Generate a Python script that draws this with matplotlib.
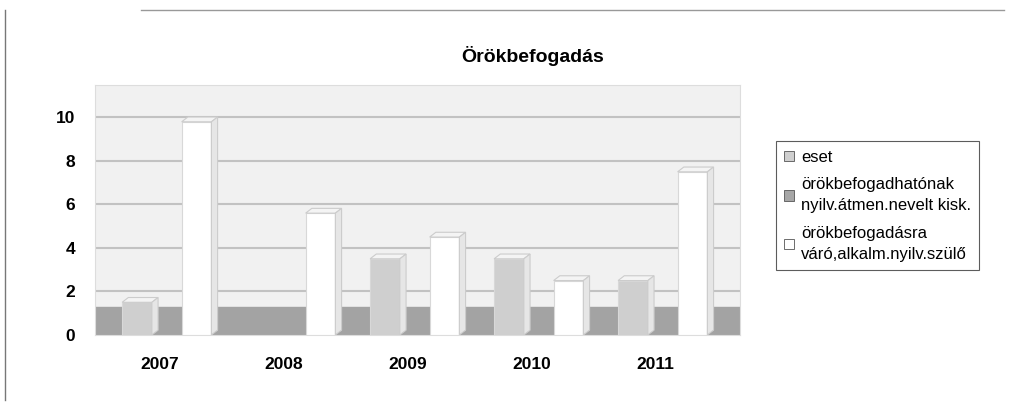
import numpy as np
from matplotlib import pyplot as plt
from matplotlib.patches import Rectangle, Polygon

plt.rcParams['font.family'] = ['Liberation Sans', 'DejaVu Sans']

years = ['2007', '2008', '2009', '2010', '2011']
eset = [1.5, 0, 3.5, 3.5, 2.5]
atmen_nevelt = [0, 0, 0, 0, 0]
varo_szulo = [9.8, 5.6, 4.5, 2.5, 7.5]

series_labels = ['eset',
                 'örökbefogadhatónak\nnyilv.átmen.nevelt kisk.',
                 'örökbefogadásra\nváró,alkalm.nyilv.szülő']
colors = ['#cfcfcf', '#a6a6a6', '#ffffff']


def bar3d(ax, x, h, w, color, dx=0.05, dy=0.22):
    # front face, top face and right side, a cheap 3d look
    ax.add_patch(Rectangle((x - w / 2, 0), w, h, facecolor=color,
                           edgecolor='#d8d8d8', lw=0.8, zorder=3))
    top = [(x - w / 2, h), (x + w / 2, h), (x + w / 2 + dx, h + dy), (x - w / 2 + dx, h + dy)]
    ax.add_patch(Polygon(top, closed=True, facecolor='#f4f4f4',
                         edgecolor='#cccccc', lw=0.8, zorder=3))
    side = [(x + w / 2, 0), (x + w / 2 + dx, dy), (x + w / 2 + dx, h + dy), (x + w / 2, h)]
    ax.add_patch(Polygon(side, closed=True, facecolor='#e6e6e6',
                         edgecolor='#cccccc', lw=0.8, zorder=3))


fig = plt.figure(figsize=(10.09, 4.04), dpi=100)
ax = fig.add_axes([0.094, 0.171, 0.639, 0.619])

ax.set_facecolor('#f1f1f1')
ax.axhspan(0, 1.3, color='#a3a3a3', zorder=1)
for v in [2, 4, 6, 8, 10]:
    ax.axhline(v, color='#c2c2c2', lw=1.5, zorder=0.5)

x = np.arange(len(years))
width = 0.24
offsets = [-0.18, 0.06, 0.30]
for vals, off, c in zip([eset, atmen_nevelt, varo_szulo], offsets, colors):
    for xi, v in zip(x, vals):
        if v > 0:
            bar3d(ax, xi + off, v, width, c)

ax.set_xlim(-0.52, 4.68)
ax.set_ylim(0, 11.5)
ax.set_yticks([0, 2, 4, 6, 8, 10])
ax.set_xticks(x)
ax.set_xticklabels(years)
ax.tick_params(length=0, labelsize=12.5)
ax.tick_params(axis='x', pad=16)
ax.tick_params(axis='y', pad=14)
for lab in ax.get_xticklabels() + ax.get_yticklabels():
    lab.set_fontweight('bold')
for s in ax.spines.values():
    s.set_color('#dddddd')

fig.text(0.528, 0.862, 'Örökbefogadás', ha='center', va='center',
         fontsize=14, fontweight='bold')

handles = [Rectangle((0, 0), 1, 1, facecolor=c, edgecolor='#555555', lw=0.6) for c in colors]
leg = fig.legend(handles, series_labels, loc='upper left',
                 bbox_to_anchor=(0.769, 0.65), frameon=True, fancybox=False,
                 fontsize=12, handlelength=0.6, handleheight=0.6,
                 handletextpad=0.4, labelspacing=0.75, borderpad=0.5,
                 borderaxespad=0)
for t in leg.get_texts():
    t.set_linespacing(1.5)
leg.get_frame().set_edgecolor('#333333')
leg.get_frame().set_linewidth(0.8)

# outer chart border
fig.add_artist(plt.Line2D([0.005, 0.005], [0.01, 0.975], color='#777777', lw=1))
fig.add_artist(plt.Line2D([0.14, 0.995], [0.975, 0.975], color='#999999', lw=1))

fig.savefig('out.png', dpi=100)
